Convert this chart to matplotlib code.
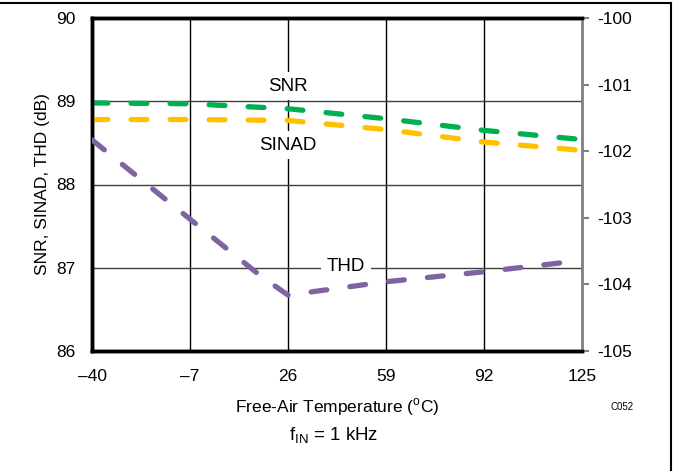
import matplotlib.pyplot as plt
from matplotlib.lines import Line2D

plt.rcParams['font.family'] = ['Liberation Sans', 'DejaVu Sans']
plt.rcParams['mathtext.fontset'] = 'custom'
plt.rcParams['mathtext.rm'] = 'Liberation Sans'

# temperature points (degC)
temp = [-40, -7, 26, 59, 92, 125]
snr = [88.98, 88.97, 88.91, 88.79, 88.65, 88.54]
sinad = [88.78, 88.78, 88.77, 88.66, 88.51, 88.41]

temp_thd = [-40, -7, 17, 26, 59, 92, 125]
thd = [-101.83, -103.02, -103.88, -104.16, -103.96, -103.81, -103.64]

xticks = [-40, -7, 26, 59, 92, 125]
xticklabels = ['\u201340', '\u20137', '26', '59', '92', '125']
yticks_left = [86, 87, 88, 89, 90]
yticks_right = [-100, -101, -102, -103, -104, -105]

fig = plt.figure(figsize=(6.77, 4.71), dpi=100)
ax = fig.add_axes([92/677, 1 - 351/471, 490/677, 333/471])
ax2 = ax.twinx()

ax.set_xlim(-40, 125)
ax.set_ylim(86, 90)
ax2.set_ylim(-105, -100)

# grid
for t in xticks[1:-1]:
    ax.axvline(t, color='black', lw=1, zorder=1)
for v in yticks_left[1:-1]:
    ax.axhline(v, color='#404040', lw=1, zorder=1)

dash = (3, 4.4)
ax.plot(temp, snr, color='#00B050', lw=3.8, dashes=dash, dash_capstyle='round', zorder=3)
ax.plot(temp, sinad, color='#FFC000', lw=3.8, dashes=dash, dash_capstyle='round', zorder=3)
ax2.plot(temp_thd, thd, color='#8064A2', lw=3.8, dashes=dash, dash_capstyle='round', zorder=3)

box = dict(facecolor='white', edgecolor='none', pad=4)
ax.text(26, 89.18, 'SNR', ha='center', va='center', fontsize=13.5, bbox=box, zorder=2)
ax.text(26, 88.47, 'SINAD', ha='center', va='center', fontsize=13.5, bbox=box, zorder=2)
ax.text(45.5, 87.02, 'THD', ha='center', va='center', fontsize=13.5, bbox=box, zorder=2)

ax.set_xticks(xticks)
ax.set_xticklabels(xticklabels, fontsize=12.5)
ax.set_yticks(yticks_left)
ax.set_yticklabels([str(v) for v in yticks_left], fontsize=12.5)
ax.tick_params(axis='x', length=0, pad=13)
ax.tick_params(axis='y', length=0, pad=12)

ax2.set_yticks(yticks_right)
ax2.set_yticklabels([str(v) for v in yticks_right], fontsize=12.5)
ax2.tick_params(axis='y', length=5, width=1.5, color='#808080', pad=6, direction='out')

for s in ['left', 'top', 'bottom']:
    ax.spines[s].set_linewidth(2.5)
    ax2.spines[s].set_linewidth(2.5)
ax.spines['right'].set_visible(False)
ax2.spines['right'].set_color('#808080')
ax2.spines['right'].set_linewidth(2)

ax.set_ylabel('SNR, SINAD, THD (dB)', fontsize=12.5, labelpad=4)
ax.set_xlabel('Free-Air Temperature ($^{\\mathrm{o}}$C)', fontsize=12.5, labelpad=9)

fig.text(622/677, 1 - 407/471, 'C052', fontsize=7, ha='center', va='center')
fig.text(334/677, 1 - 436/471, 'f$_{\\mathrm{IN}}$ = 1 kHz', fontsize=13.5, ha='center', va='center')

# page frame (top and right only)
fig.add_artist(Line2D([0, 670.5/677], [1 - 2.5/471, 1 - 2.5/471], transform=fig.transFigure, color='black', lw=1.5))
fig.add_artist(Line2D([670.5/677, 670.5/677], [0, 1 - 2.5/471], transform=fig.transFigure, color='black', lw=1.5))

fig.savefig('out.png', dpi=100)
